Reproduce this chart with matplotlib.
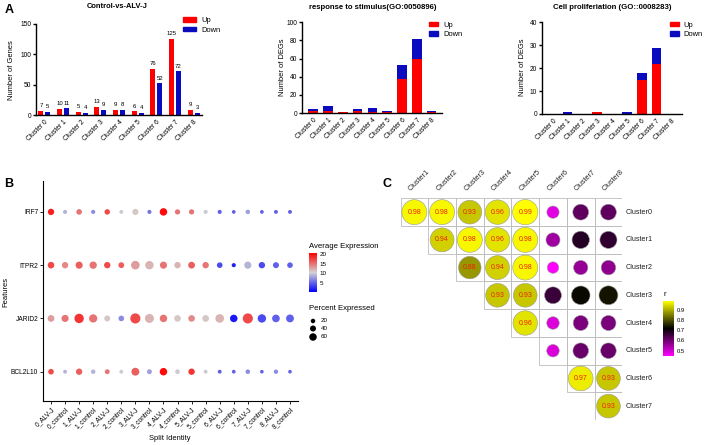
import matplotlib
matplotlib.use('Agg')
import matplotlib.pyplot as plt
import numpy as np
from matplotlib.colors import LinearSegmentedColormap, Normalize
from matplotlib.patches import Circle, Rectangle, Patch

plt.rcParams['font.family'] = ['Liberation Sans', 'DejaVu Sans']

# ---- data ----
clusters = ['Cluster 0', 'Cluster 1', 'Cluster 2', 'Cluster 3', 'Cluster 4',
            'Cluster 5', 'Cluster 6', 'Cluster 7', 'Cluster 8']
deg_up = [7, 10, 5, 13, 9, 6, 76, 125, 9]
deg_down = [5, 11, 4, 9, 8, 4, 52, 72, 3]
stim_up = [2, 2, 1, 2, 1, 1, 38, 59, 1]
stim_down = [2, 6, 0, 2, 4, 1, 15, 23, 1]
prolif_up = [0, 0, 0, 1, 0, 0, 15, 22, 0]
prolif_down = [0, 1, 0, 0, 0, 1, 3, 7, 0]

features = ['IRF7', 'ITPR2', 'JARID2', 'BCL2L10']
groups = ['0_ALV-J', '0_control', '1_ALV-J', '1_control', '2_ALV-J', '2_control',
          '3_ALV-J', '3_control', '4_ALV-J', '4_control', '5_ALV-J', '5_control',
          '6_ALV-J', '6_control', '7_ALV-J', '7_control', '8_ALV-J', '8_control']
expr_irf7 = [19, 9, 15, 7, 17, 10, 11, 6, 20, 15, 15, 10, 5, 5, 8, 5, 5, 5]
pct_irf7 = [45, 15, 35, 15, 33, 12, 42, 15, 60, 30, 30, 15, 15, 10, 20, 10, 12, 12]
expr_itpr2 = [17, 14, 16, 15, 17, 16, 13, 12, 15, 12, 16, 15, 4, 2, 9, 4, 5, 5]
pct_itpr2 = [48, 45, 55, 58, 45, 38, 75, 72, 55, 45, 50, 45, 35, 15, 55, 45, 40, 35]
expr_jarid2 = [13, 15, 18, 15, 11, 7, 17, 12, 15, 11, 14, 11, 12, 1.5, 17, 4, 5, 5]
pct_jarid2 = [50, 55, 85, 70, 40, 35, 95, 80, 60, 48, 48, 50, 75, 60, 95, 72, 62, 65]
expr_bcl2l10 = [17, 9, 16, 9, 15, 10, 16, 8, 20, 10, 18, 10, 5, 5, 7, 5, 7, 5]
pct_bcl2l10 = [35, 12, 45, 20, 25, 12, 65, 25, 60, 22, 45, 12, 12, 10, 20, 8, 18, 8]

corr_cols = ['Cluster1', 'Cluster2', 'Cluster3', 'Cluster4',
             'Cluster5', 'Cluster6', 'Cluster7', 'Cluster8']
corr_rows = ['Cluster0', 'Cluster1', 'Cluster2', 'Cluster3',
             'Cluster4', 'Cluster5', 'Cluster6', 'Cluster7']
corr_r = [
    [0.98, 0.98, 0.93, 0.96, 0.99, 0.48, 0.62, 0.62],
    [None, 0.94, 0.98, 0.96, 0.98, 0.55, 0.68, 0.67],
    [None, None, 0.88, 0.94, 0.98, 0.45, 0.56, 0.57],
    [None, None, None, 0.93, 0.93, 0.66, 0.73, 0.74],
    [None, None, None, None, 0.96, 0.49, 0.59, 0.59],
    [None, None, None, None, None, 0.49, 0.61, 0.61],
    [None, None, None, None, None, None, 0.97, 0.93],
    [None, None, None, None, None, None, None, 0.93],
]

W, H = 708, 445
fig = plt.figure(figsize=(W / 100, H / 100), dpi=100)


def px_axes(x0, y0, x1, y1):
    return fig.add_axes([x0 / W, 1 - y1 / H, (x1 - x0) / W, (y1 - y0) / H])


def ftext(x, y, s, **kw):
    fig.text(x / W, 1 - y / H, s, **kw)


red = '#FF0000'
blue = '#0A0ABE'


def prism(ax, ylim, yticks):
    for s in ['top', 'right']:
        ax.spines[s].set_visible(False)
    for s in ['left', 'bottom']:
        ax.spines[s].set_linewidth(1.0)
    ax.set_ylim(*ylim)
    ax.set_yticks(yticks)
    ax.set_xticks(range(len(clusters)))
    ax.set_xticklabels(clusters, rotation=45, ha='right', va='top',
                       rotation_mode='anchor')
    ax.tick_params(axis='y', length=2.5, width=1.0, labelsize=4.8, pad=1)
    ax.tick_params(axis='x', length=0, labelsize=4.8, pad=2.5)


def legend_at(ax, x, y, hl):
    hs = [Patch(color=red, label='Up'), Patch(color=blue, label='Down')]
    ax.legend(handles=hs, loc='upper left', bbox_to_anchor=(x / W, 1 - y / H),
              bbox_transform=fig.transFigure, frameon=False, fontsize=5.4,
              handlelength=hl, handleheight=0.6, borderpad=0, borderaxespad=0,
              labelspacing=0.35, handletextpad=0.6)


# ---- A1 grouped bars ----
ax1 = px_axes(36, 24, 202, 115)
xs = np.arange(len(clusters))
ax1.bar(xs - 0.19, deg_up, width=0.27, color=red)
ax1.bar(xs + 0.19, deg_down, width=0.27, color=blue)
for x, u, d in zip(xs, deg_up, deg_down):
    ax1.annotate(str(u), (x - 0.19, u), xytext=(0, 2), textcoords='offset points',
                 ha='center', va='bottom', fontsize=4.3)
    ax1.annotate(str(d), (x + 0.19, d), xytext=(0, 2), textcoords='offset points',
                 ha='center', va='bottom', fontsize=4.3)
ax1.set_xlim(-0.45, 8.45)
prism(ax1, (0, 150), [0, 50, 100, 150])
legend_at(ax1, 183, 17, 1.8)
ftext(117, 7, 'Control-vs-ALV-J', ha='center', va='center', fontsize=5.4,
      fontweight='bold')
ftext(12, 70, 'Number of Genes', ha='center', va='center', rotation=90, fontsize=5.4)

# ---- A2 stacked ----
ax2 = px_axes(302, 22.3, 442, 113)
ax2.bar(xs, stim_up, width=0.65, color=red)
ax2.bar(xs, stim_down, bottom=stim_up, width=0.65, color=blue)
ax2.set_xlim(-0.75, 8.7)
prism(ax2, (0, 100), [0, 20, 40, 60, 80, 100])
legend_at(ax2, 429, 21.5, 1.25)
ftext(373, 7.5, 'response to stimulus(GO:0050896)', ha='center', va='center',
      fontsize=5.6, fontweight='bold')
ftext(282, 67, 'Number of DEGs', ha='center', va='center', rotation=90, fontsize=5.4)

# ---- A3 stacked ----
ax3 = px_axes(542, 22.3, 682, 114)
ax3.bar(xs, prolif_up, width=0.65, color=red)
ax3.bar(xs, prolif_down, bottom=prolif_up, width=0.65, color=blue)
ax3.set_xlim(-0.73, 8.72)
prism(ax3, (0, 40), [0, 10, 20, 30, 40])
legend_at(ax3, 670, 21.5, 1.25)
ftext(612, 7.5, 'Cell proliferiation (GO::0008283)', ha='center', va='center',
      fontsize=5.6, fontweight='bold')
ftext(522, 67, 'Number of DEGs', ha='center', va='center', rotation=90, fontsize=5.4)

# ---- B dot plot ----
cmap_b = LinearSegmentedColormap.from_list('bgr', ['#0000FF', '#D3D3D3', '#FF0000'])
norm_b = Normalize(0.4, 20.5)


def dot_size(p):
    d_px = 3.0 + 0.075 * np.asarray(p, dtype=float)
    return (d_px * 0.72) ** 2


axb = px_axes(43, 181, 298, 401)
expr_rows = [expr_irf7, expr_itpr2, expr_jarid2, expr_bcl2l10]
pct_rows = [pct_irf7, pct_itpr2, pct_jarid2, pct_bcl2l10]
for i, (ev, pv) in enumerate(zip(expr_rows, pct_rows)):
    axb.scatter(np.arange(len(groups)), [i] * len(groups), c=ev, cmap=cmap_b,
                norm=norm_b, s=dot_size(pv), linewidths=0)
axb.set_xlim(-0.57, 17.57)
axb.set_ylim(3.55, -0.58)
axb.set_xticks(range(len(groups)))
axb.set_xticklabels(groups, rotation=45, ha='right', va='top', rotation_mode='anchor')
axb.set_yticks(range(len(features)))
axb.set_yticklabels(features)
for s in ['top', 'right']:
    axb.spines[s].set_visible(False)
for s in ['left', 'bottom']:
    axb.spines[s].set_linewidth(0.8)
axb.tick_params(length=2, width=0.6, labelsize=4.8, pad=1.5)
ftext(6, 292, 'Features', ha='center', va='center', rotation=90, fontsize=5.4)
ftext(170, 438, 'Split Identity', ha='center', va='center', fontsize=5.4)

# B legends
ftext(309, 247, 'Average Expression', ha='left', va='center', fontsize=5.6)
axcb = px_axes(309, 253, 317, 292)
grad = np.linspace(20.5, 0.4, 200).reshape(-1, 1)
axcb.imshow(grad, cmap=cmap_b, norm=norm_b, aspect='auto', extent=[0, 1, 0.4, 20.5])
axcb.set_xticks([])
axcb.yaxis.tick_right()
axcb.set_yticks([5, 10, 15, 20])
axcb.tick_params(axis='y', length=0, labelsize=4.5, pad=2)
for s in axcb.spines.values():
    s.set_visible(False)

ftext(309, 308, 'Percent Expressed', ha='left', va='center', fontsize=5.6)
leg_pct = [20, 40, 60]
leg_y = [321, 328.5, 337]
axl = px_axes(300, 314, 345, 344)
axl.set_xlim(300, 345)
axl.set_ylim(344, 314)
axl.axis('off')
axl.scatter([313] * 3, leg_y, s=dot_size(leg_pct), color='black', linewidths=0)
for p, y in zip(leg_pct, leg_y):
    axl.text(321, y, str(p), ha='left', va='center', fontsize=4.5)

# ---- C correlation ----
cmap_c = LinearSegmentedColormap.from_list('mky', ['#FF00FF', '#000000', '#FFFF00'])
norm_c = Normalize(0.45, 0.99)
axc = px_axes(400.5, 198.3, 622.3, 420)
axc.set_xlim(0, 8)
axc.set_ylim(8, 0)
axc.axis('off')
for i, row in enumerate(corr_r):
    for j, r in enumerate(row):
        if r is None:
            continue
        axc.add_patch(Rectangle((j, i), 1, 1, fill=False, edgecolor='#BDBDBD', lw=0.6))
        axc.add_patch(Circle((j + 0.5, i + 0.5), 0.46 * r, facecolor=cmap_c(norm_c(r)),
                             edgecolor='#999999', lw=0.4))
        if r >= 0.85:
            axc.text(j + 0.5, i + 0.5, f'{r:.2f}', ha='center', va='center',
                     fontsize=5, color='#F02010')
for i, name in enumerate(corr_rows):
    axc.text(8.13, i + 0.5, name, ha='left', va='center', fontsize=5.2, color='#222222')
for j, name in enumerate(corr_cols):
    axc.text(j + 0.42, -0.22, name, ha='left', va='bottom', rotation=45,
             rotation_mode='anchor', fontsize=5.2, color='#222222', clip_on=False)

ftext(663, 294, 'r', ha='left', va='center', fontsize=5.6)
axcc = px_axes(663, 300.7, 674, 355.7)
gradc = np.linspace(0.99, 0.45, 200).reshape(-1, 1)
axcc.imshow(gradc, cmap=cmap_c, norm=norm_c, aspect='auto', extent=[0, 1, 0.45, 0.99])
axcc.set_xticks([])
axcc.yaxis.tick_right()
axcc.set_yticks([0.5, 0.6, 0.7, 0.8, 0.9])
axcc.tick_params(axis='y', length=0, labelsize=4.2, pad=2)
for s in axcc.spines.values():
    s.set_visible(False)

# panel letters
ftext(9, 10, 'A', ha='center', va='center', fontsize=9, fontweight='bold')
ftext(9, 184, 'B', ha='center', va='center', fontsize=9, fontweight='bold')
ftext(387, 184, 'C', ha='center', va='center', fontsize=9, fontweight='bold')

plt.savefig('out.png', dpi=100)
plt.close('all')
